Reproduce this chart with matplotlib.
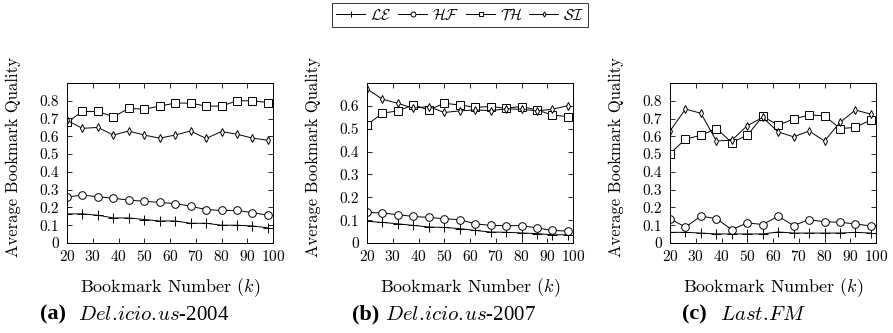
import matplotlib
matplotlib.use("Agg")
import matplotlib.pyplot as plt

plt.rcParams['font.family'] = ['cmr10', 'DejaVu Serif']
plt.rcParams['mathtext.fontset'] = 'cm'
plt.rcParams['axes.formatter.use_mathtext'] = True

k = [20, 26, 32, 38, 44, 50, 56, 62, 68, 74, 80, 86, 92, 98]

a_le = [0.164, 0.164, 0.156, 0.141, 0.141, 0.132, 0.124, 0.124, 0.111, 0.111, 0.100, 0.100, 0.096, 0.085]
a_hf = [0.258, 0.270, 0.260, 0.252, 0.241, 0.235, 0.228, 0.222, 0.207, 0.188, 0.183, 0.183, 0.171, 0.156]
a_th = [0.678, 0.740, 0.740, 0.710, 0.757, 0.753, 0.770, 0.787, 0.787, 0.770, 0.770, 0.800, 0.800, 0.790]
a_si = [0.690, 0.645, 0.650, 0.607, 0.630, 0.607, 0.590, 0.607, 0.630, 0.588, 0.627, 0.612, 0.590, 0.578]

b_le = [0.095, 0.090, 0.084, 0.077, 0.070, 0.068, 0.063, 0.055, 0.048, 0.047, 0.044, 0.041, 0.036, 0.036]
b_hf = [0.134, 0.131, 0.124, 0.116, 0.112, 0.106, 0.102, 0.084, 0.077, 0.076, 0.076, 0.066, 0.055, 0.052]
b_th = [0.517, 0.568, 0.578, 0.604, 0.582, 0.611, 0.604, 0.594, 0.597, 0.590, 0.597, 0.582, 0.560, 0.553]
b_si = [0.674, 0.629, 0.611, 0.590, 0.597, 0.571, 0.578, 0.582, 0.579, 0.587, 0.585, 0.578, 0.585, 0.601]

c_le = [0.060, 0.060, 0.056, 0.051, 0.051, 0.051, 0.051, 0.062, 0.056, 0.056, 0.056, 0.056, 0.060, 0.056]
c_hf = [0.137, 0.089, 0.151, 0.137, 0.075, 0.113, 0.104, 0.151, 0.098, 0.132, 0.119, 0.117, 0.107, 0.096]
c_th = [0.503, 0.584, 0.606, 0.644, 0.565, 0.606, 0.712, 0.663, 0.697, 0.720, 0.716, 0.644, 0.650, 0.693]
c_si = [0.630, 0.753, 0.730, 0.574, 0.578, 0.660, 0.706, 0.625, 0.597, 0.630, 0.574, 0.678, 0.748, 0.725]

series_names = [r'$\mathcal{LE}$', r'$\mathcal{HF}$', r'$\mathcal{TH}$', r'$\mathcal{SI}$']
panel_data = [[a_le, a_hf, a_th, a_si], [b_le, b_hf, b_th, b_si], [c_le, c_hf, c_th, c_si]]
panel_ymax = [0.9, 0.7, 0.9]
panel_tag = ['(a)', '(b)', '(c)']
panel_name = [r'$Del.\!icio.\!us$-2004', r'$Del.\!icio.\!us$-2007', r'$Last.\!FM$']

markers = ['+', 'o', 's', 'd']
msizes = [7, 5.5, 5.5, 4]

W, H = 893, 333
fig = plt.figure(figsize=(W / 100, H / 100), dpi=100)

lefts = [67, 367, 670]
axw = 206
top, bottom = 83, 243
tag_x = [40, 352, 682]
name_x = [78, 385, 720]

handles = None
for i, data in enumerate(panel_data):
    ax = fig.add_axes([lefts[i] / W, 1 - bottom / H, axw / W, (bottom - top) / H])
    hs = []
    for j, ys in enumerate(data):
        h, = ax.plot(k, ys, color='black', lw=0.7, marker=markers[j], ms=msizes[j],
                     mfc='white', mec='black', mew=0.7, label=series_names[j])
        hs.append(h)
    handles = hs
    ax.set_xlim(20, 100)
    ax.set_ylim(0, panel_ymax[i])
    ax.set_xticks(range(20, 101, 10))
    yt = [round(v * 0.1, 1) for v in range(0, int(round(panel_ymax[i] * 10)))]
    ax.set_yticks(yt)
    ax.set_yticklabels(['0' if v == 0 else f'{v:.1f}' for v in yt])
    ax.tick_params(direction='in', top=True, right=True, length=3.5, width=0.6,
                   labelsize=11)
    ax.tick_params(axis='x', pad=4)
    ax.tick_params(axis='y', pad=6)
    for s in ax.spines.values():
        s.set_linewidth(0.7)
    ax.set_xlabel(r'Bookmark Number ($k$)', fontsize=13)
    ax.set_ylabel('Average Bookmark Quality', fontsize=12)
    ax.xaxis.label.set_va('center')
    ax.yaxis.label.set_va('center')
    ax.xaxis.set_label_coords(0.5, (bottom - 288) / (bottom - top))
    ax.yaxis.set_label_coords(-54 / axw, (bottom - 157.5) / (bottom - top))
    fig.text(tag_x[i] / W, 1 - 314 / H, panel_tag[i], fontsize=16, fontweight='bold',
             family=['Liberation Serif', 'DejaVu Serif'], ha='left', va='center')
    fig.text(name_x[i] / W, 1 - 315 / H, panel_name[i], fontsize=15,
             family=['Liberation Serif', 'DejaVu Serif'], ha='left', va='center')

leg = fig.legend(handles=handles, loc='upper center', bbox_to_anchor=(460 / W, 1 - 3 / H),
                 ncol=4, frameon=True, fancybox=False, edgecolor='black',
                 fontsize=11, handlelength=1.9, handletextpad=0.3, columnspacing=0.45,
                 borderpad=0.25, borderaxespad=0, markerscale=0.65)
leg.get_frame().set_linewidth(0.7)

fig.savefig('out.png', dpi=100)
